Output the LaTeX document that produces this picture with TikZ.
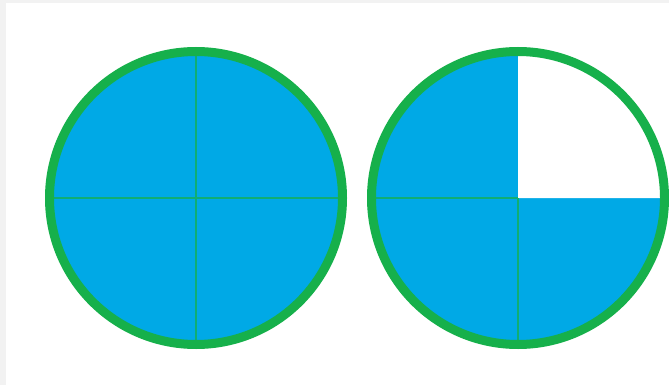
\documentclass[tikz,border=0pt]{standalone}
\usepackage{xcolor}
\usepackage{tikz}
\usetikzlibrary{calc}
\definecolor{PieBlue}{HTML}{00A9E6}
\definecolor{RimGreen}{HTML}{16B04B}
\definecolor{EdgeGray}{HTML}{F2F2F2}

\begin{document}
\begin{tikzpicture}[x=1pt,y=-1pt,
  rim/.style={draw=RimGreen,line width=9pt},
  part/.style={draw=RimGreen!75!PieBlue,line width=1.6pt},
  piece/.style={fill=PieBlue}
]
% frame
\fill[EdgeGray] (0,0) rectangle (669,385);
\fill[white] (6,3) rectangle (669,385);
\useasboundingbox (0,0) rectangle (669,385);

% whole: four quarters
\coordinate (c1) at (196,198);
\fill[piece] (c1) circle (146.5pt);
\draw[part] ($(c1)+(0,-146)$) -- ($(c1)+(0,146)$);
\draw[part] ($(c1)+(-146,0)$) -- ($(c1)+(146,0)$);
\draw[rim] (c1) circle (146.5pt);

% three quarters
\coordinate (c2) at (518,198);
\fill[piece] (c2) circle (146.5pt);
\fill[white] (c2) -- ++(146.5,0) arc[start angle=0,end angle=90,radius=146.5pt] -- cycle;
\draw[part] (c2) -- ++(0,146);
\draw[part] (c2) -- ++(-146,0);
\draw[rim] (c2) circle (146.5pt);
\end{tikzpicture}
\end{document}
